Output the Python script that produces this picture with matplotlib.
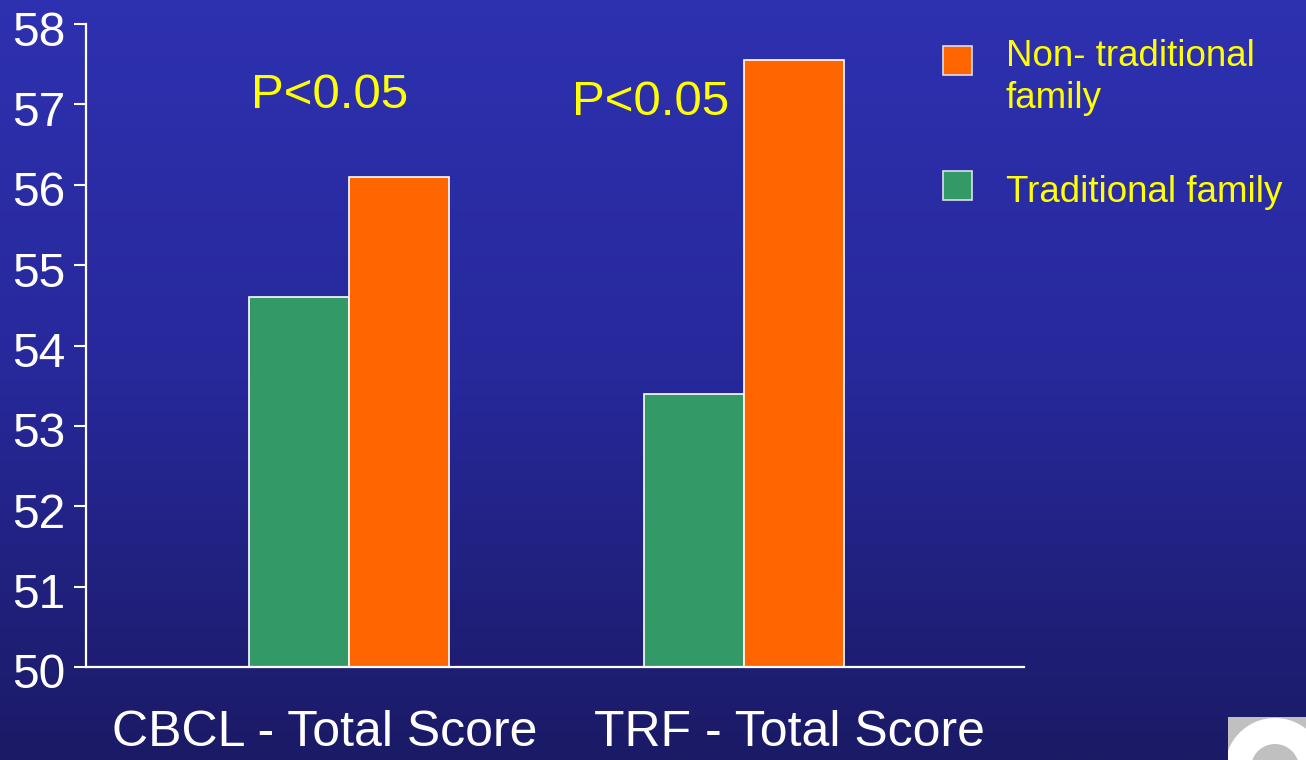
import numpy as np
import matplotlib
matplotlib.use("Agg")
import matplotlib.pyplot as plt
from matplotlib.patches import Rectangle, Wedge
from matplotlib.colors import LinearSegmentedColormap
from matplotlib.transforms import ScaledTranslation

plt.rcParams['font.family'] = ['Liberation Sans', 'DejaVu Sans']

# Mean total scores by family type
categories = ['CBCL - Total Score', 'TRF - Total Score']
traditional = [54.6, 53.4]
non_traditional = [56.1, 57.55]
p_labels = ['P<0.05', 'P<0.05']

GREEN = '#339966'
ORANGE = '#FF6600'
YELLOW = '#FFFF00'

fig = plt.figure(figsize=(13.06, 7.6), dpi=100)

# slide-style vertical gradient behind everything
bg = fig.add_axes([0, 0, 1, 1], zorder=-10)
grad = np.linspace(0, 1, 256).reshape(-1, 1)
cmap = LinearSegmentedColormap.from_list('slide', ['#2E31B0', '#27289A', '#1B1A66'])
bg.imshow(grad, aspect='auto', cmap=cmap, extent=[0, 1, 0, 1])
bg.axis('off')

ax = fig.add_axes([86 / 1306, 93 / 760, (1024 - 86) / 1306, (667 - 24) / 760])
ax.patch.set_alpha(0)

x = np.arange(len(categories))
w = 0.253
ax.bar(x - w / 2, traditional, w, color=GREEN, edgecolor='white', linewidth=1.2, zorder=2)
ax.bar(x + w / 2, non_traditional, w, color=ORANGE, edgecolor='white', linewidth=1.2, zorder=2)

ax.set_ylim(50, 58)
ax.set_xlim(-0.664, 1.708)
ax.set_yticks(range(50, 59))

# category labels sit at the centres of the two equal slots
slot_centres = np.linspace(-0.664, 1.708, 5)[1::2]
ax.set_xticks(slot_centres + [0.01, 0.0])
ax.set_xticklabels(categories, fontsize=36, color='white')
ax.tick_params(axis='x', length=0, pad=31)
ax.tick_params(axis='y', colors='white', labelsize=34.5, length=9, width=1.5, pad=6, direction='out')

# nudge the y numbers down a little so the digits sit centred on their ticks
shift = ScaledTranslation(0, -4 / 100, fig.dpi_scale_trans)
for lbl in ax.get_yticklabels():
    lbl.set_transform(lbl.get_transform() + shift)

for side in ['top', 'right']:
    ax.spines[side].set_visible(False)
for side in ['left', 'bottom']:
    ax.spines[side].set_color('white')
    ax.spines[side].set_linewidth(1.6)

# significance notes above each pair
p_pos = [(-0.048, 56.96), (0.765, 56.87)]
for (px, py), lab in zip(p_pos, p_labels):
    ax.text(px, py, lab, color=YELLOW, fontsize=35.5, ha='center', va='baseline')

# legend drawn on the figure
W, H = 1306, 760
leg = [(ORANGE, 'Non- traditional\nfamily', 46, 39), (GREEN, 'Traditional family', 171, 175)]
for col, lab, top, text_top in leg:
    fig.patches.append(Rectangle((943 / W, 1 - (top + 29) / H), 29 / W, 29 / H,
                                 transform=fig.transFigure, facecolor=col,
                                 edgecolor='#DDDDEE', linewidth=1.2))
    fig.text(1006 / W, 1 - text_top / H, lab, color=YELLOW, fontsize=26.5,
             va='top', ha='left', linespacing=1.25)

# corner badge
badge = fig.add_axes([1228 / W, 0, 78 / W, 43 / H], zorder=5)
badge.set_xlim(1228, 1306)
badge.set_ylim(760, 717)
badge.set_facecolor('#C0C0C0')
badge.set_xticks([])
badge.set_yticks([])
for s in badge.spines.values():
    s.set_visible(False)
badge.add_patch(Wedge((1275, 768), 50, 0, 360, width=26, facecolor='white', edgecolor='none'))

fig.savefig('out.png', dpi=100)
